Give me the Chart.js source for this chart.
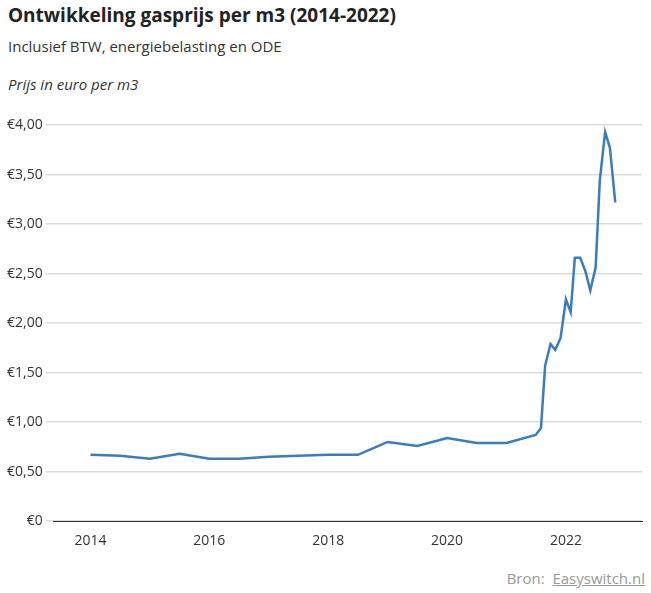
<!DOCTYPE html>
<html><head><meta charset="utf-8">
<script src="https://cdn.jsdelivr.net/npm/chart.js@4"></script>
<style>
body{margin:0;background:#fff;font-family:"Open Sans",sans-serif;color:#222;width:651px;height:593px;position:relative;overflow:hidden}
h1{position:absolute;left:8px;top:2px;margin:0;font-size:19px;font-weight:700}
.sub{position:absolute;left:8px;top:36px;font-size:15px;color:#333}
.unit{position:absolute;left:8px;top:74px;font-size:15px;font-style:italic;color:#333}
.src{position:absolute;right:6px;top:568px;font-size:15px;color:#999}
.src u{text-decoration:underline}
#wrap{position:absolute;left:0;top:110px;width:651px;height:442px}
</style></head><body>
<h1>Ontwikkeling gasprijs per m3 (2014-2022)</h1>
<div class="sub">Inclusief BTW, energiebelasting en ODE</div>
<div class="unit">Prijs in euro per m3</div>
<div id="wrap"><canvas id="c"></canvas></div>
<div class="src">Bron: &nbsp;<u>Easyswitch.nl</u></div>
<script>
const years = [2014, 2014.5, 2015, 2015.5, 2016, 2016.5, 2017, 2017.5, 2018, 2018.5, 2019, 2019.5, 2020, 2020.5, 2021,
  2021.49, 2021.58, 2021.65, 2021.74, 2021.82, 2021.91, 2022.0, 2022.08, 2022.15, 2022.24, 2022.33, 2022.41, 2022.5,
  2022.57, 2022.66, 2022.74, 2022.83];
const prices = [0.67, 0.66, 0.63, 0.68, 0.63, 0.63, 0.65, 0.66, 0.67, 0.67, 0.80, 0.76, 0.84, 0.79, 0.79,
  0.87, 0.94, 1.57, 1.79, 1.73, 1.85, 2.24, 2.11, 2.66, 2.66, 2.52, 2.33, 2.56,
  3.44, 3.93, 3.77, 3.22];
const xTicks = [2014, 2016, 2018, 2020, 2022];

new Chart(document.getElementById("c"), {
  type: "line",
  data: {
    datasets: [{
      data: years.map((y, i) => ({ x: y, y: prices[i] })),
      borderColor: "#3a7dbf",
      borderWidth: 2.5,
      pointRadius: 0,
      tension: 0
    }]
  },
  options: {
    responsive: true,
    maintainAspectRatio: false,
    animation: false,
    layout: { padding: { left: 4, right: 9, top: 15 } },
    plugins: { legend: { display: false }, tooltip: { enabled: false } },
    scales: {
      x: {
        type: "linear", min: 2013.38, max: 2023.28,
        afterBuildTicks: s => { s.ticks = xTicks.map(v => ({ value: v })); },
        grid: { display: false },
        border: { color: "#333" },
        ticks: { color: "#333", font: { family: "Open Sans", size: 14 }, callback: v => String(v) }
      },
      y: {
        min: 0, max: 4,
        ticks: {
          stepSize: 0.5, color: "#333", font: { family: "Open Sans", size: 14 },
          callback: v => v === 0 ? "€0" : "€" + v.toFixed(2).replace(".", ",")
        },
        grid: { color: "#ddd", lineWidth: 1.5 },
        border: { display: false }
      }
    }
  }
});
</script>
</body></html>
